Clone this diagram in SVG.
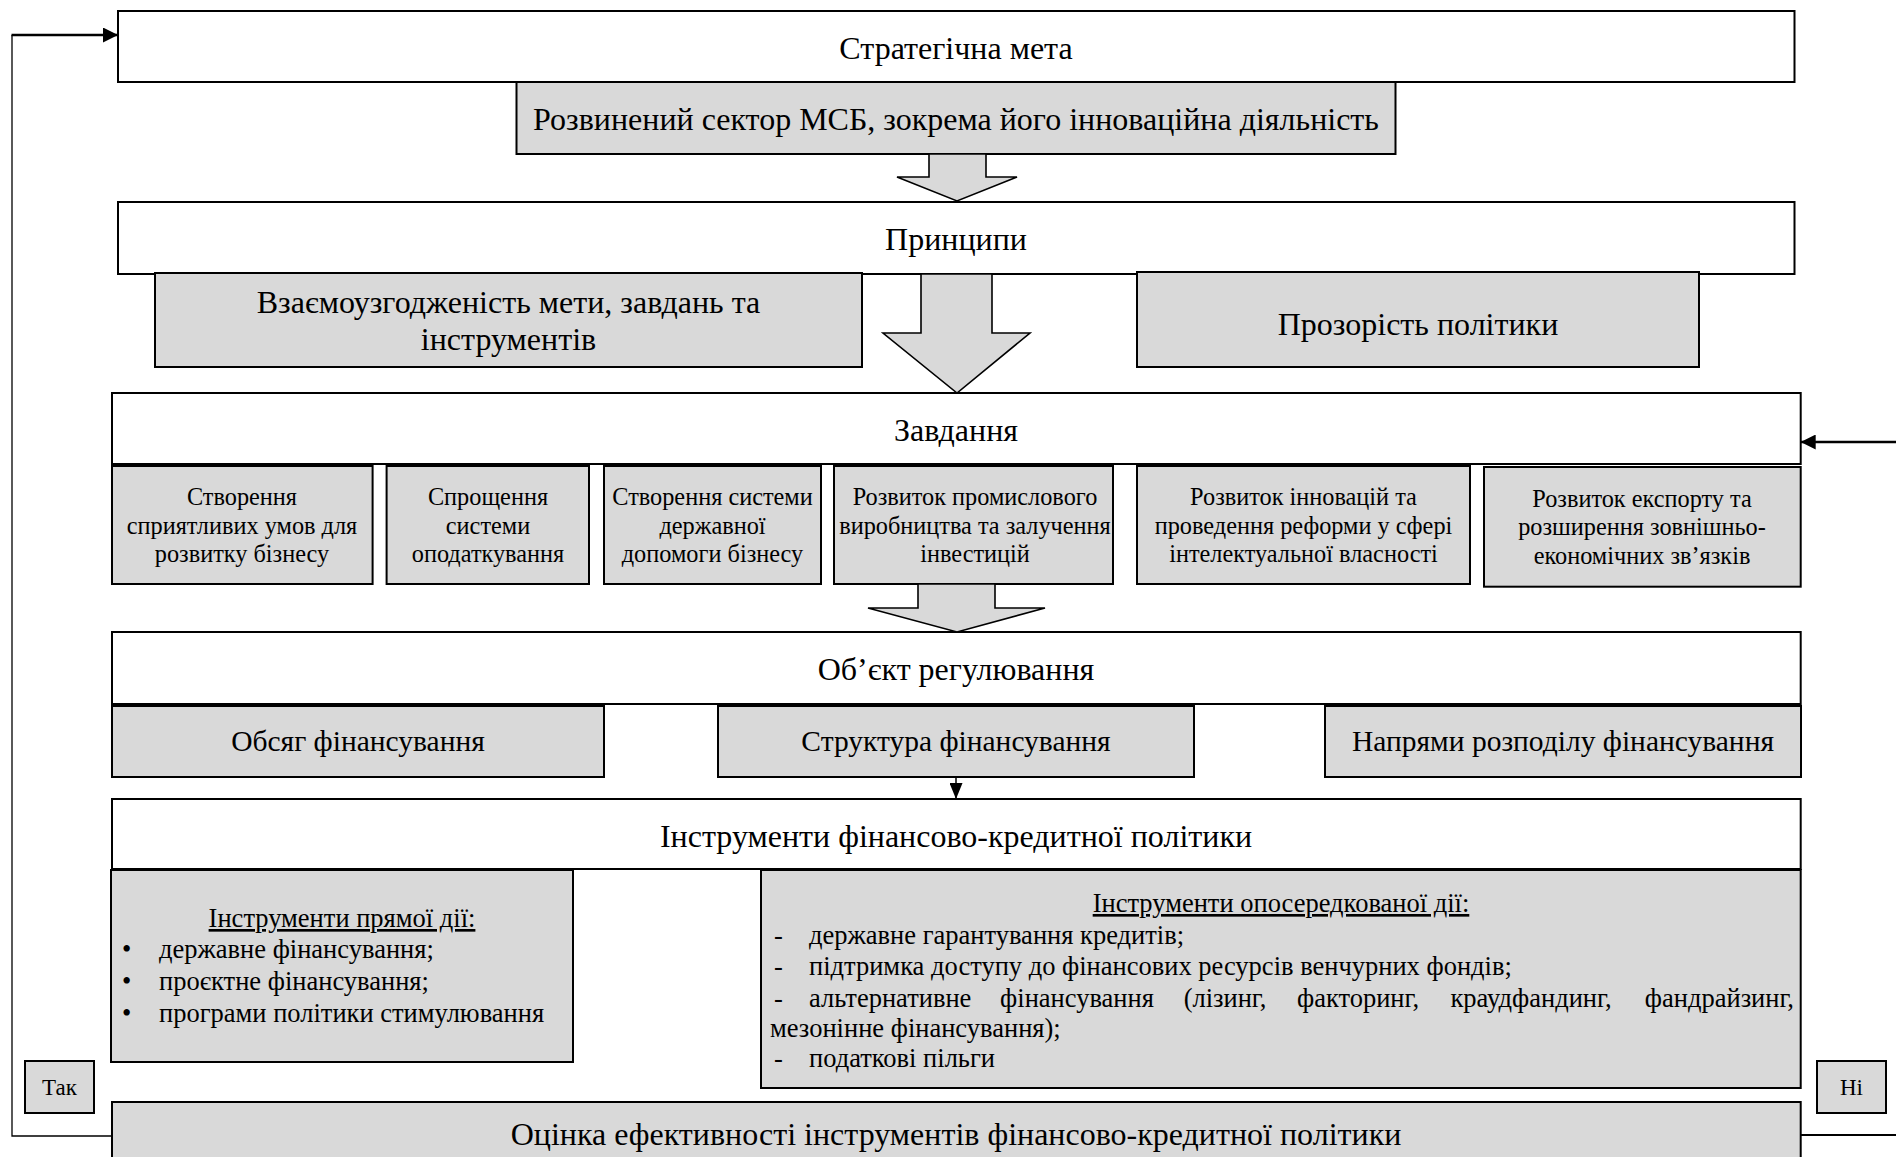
<svg xmlns="http://www.w3.org/2000/svg" width="1896" height="1157" viewBox="0 0 1896 1157">
<style>
text{font-family:"Liberation Serif","Times New Roman",serif;fill:#000}
.box{fill:#fff;stroke:#000;stroke-width:2}
.gbox{fill:#d9d9d9;stroke:#000;stroke-width:2}
.barrow{fill:#d9d9d9;stroke:#000;stroke-width:1.6;stroke-linejoin:miter}
.h{font-size:32px;text-anchor:middle}
.m{font-size:29.5px;text-anchor:middle}
.t{font-size:24.3px;text-anchor:middle}
.l{font-size:26.5px}
.lc{font-size:26.5px;text-anchor:middle;text-decoration:underline}
.s{font-size:23px;text-anchor:middle}
.ln{fill:none;stroke:#000}
</style>
<defs>
<marker id="ah" viewBox="0 0 16 13" refX="16" refY="6.5" markerWidth="16" markerHeight="13" markerUnits="userSpaceOnUse" orient="auto">
<path d="M0,0 L16,6.5 L0,13 z" fill="#000"/>
</marker>
<marker id="ah2" viewBox="0 0 10 10" refX="10" refY="5" markerWidth="7" markerHeight="6" orient="auto">
<path d="M0,0 L10,5 L0,10 z" fill="#000"/>
</marker>
</defs>

<g id="goal">
<rect class="box" x="118" y="11" width="1676.5" height="71"/>
<text class="h" x="956" y="59">Стратегічна мета</text>
</g>
<g id="goal-msb">
<rect class="gbox" x="516.5" y="82" width="879" height="72"/>
<text class="h" x="956" y="130">Розвинений сектор МСБ, зокрема його інноваційна діяльність</text>
</g>

<g id="principles">
<rect class="box" x="118" y="202" width="1676.5" height="72"/>
<text class="h" x="956" y="250">Принципи</text>
</g>
<g id="principle-1">
<rect class="gbox" x="155" y="273" width="707" height="94"/>
<text class="h" x="508.5" y="313">Взаємоузгодженість мети, завдань та</text>
<text class="h" x="508.5" y="350">інструментів</text>
</g>
<g id="principle-2">
<rect class="gbox" x="1137" y="272" width="562" height="95"/>
<text class="h" x="1418" y="335">Прозорість політики</text>
</g>

<g id="tasks">
<rect class="box" x="112" y="393" width="1688.7" height="71"/>
<text class="h" x="956" y="441">Завдання</text>
</g>
<g id="task-1">
<rect class="gbox" x="112" y="466" width="260.6" height="118"/>
<text class="t" x="242" y="505">Створення</text>
<text class="t" x="242" y="534">сприятливих умов для</text>
<text class="t" x="242" y="562">розвитку бізнесу</text>
</g>
<g id="task-2">
<rect class="gbox" x="386.6" y="466" width="202.4" height="118"/>
<text class="t" x="488" y="505">Спрощення</text>
<text class="t" x="488" y="534">системи</text>
<text class="t" x="488" y="562">оподаткування</text>
</g>
<g id="task-3">
<rect class="gbox" x="604" y="466" width="217" height="118"/>
<text class="t" x="712.5" y="505">Створення системи</text>
<text class="t" x="712.5" y="534">державної</text>
<text class="t" x="712.5" y="562">допомоги бізнесу</text>
</g>
<g id="task-4">
<rect class="gbox" x="834" y="466" width="279" height="118"/>
<text class="t" x="975" y="505">Розвиток промислового</text>
<text class="t" x="975" y="534">виробництва та залучення</text>
<text class="t" x="975" y="562">інвестицій</text>
</g>
<g id="task-5">
<rect class="gbox" x="1137" y="466" width="333" height="118"/>
<text class="t" x="1303.5" y="505">Розвиток інновацій та</text>
<text class="t" x="1303.5" y="534">проведення реформи у сфері</text>
<text class="t" x="1303.5" y="562">інтелектуальної власності</text>
</g>
<g id="task-6">
<rect class="gbox" x="1484" y="467" width="316.7" height="119.7"/>
<text class="t" x="1642" y="507">Розвиток експорту та</text>
<text class="t" x="1642" y="535">розширення зовнішньо-</text>
<text class="t" x="1642" y="564">економічних зв’язків</text>
</g>

<g id="object">
<rect class="box" x="112" y="632" width="1688.7" height="72"/>
<text class="h" x="956" y="680">Об’єкт регулювання</text>
</g>
<g id="object-1">
<rect class="gbox" x="112" y="706" width="492" height="71"/>
<text class="m" x="358" y="751">Обсяг фінансування</text>
</g>
<g id="object-2">
<rect class="gbox" x="718" y="706" width="476" height="71"/>
<text class="m" x="956" y="751">Структура фінансування</text>
</g>
<g id="object-3">
<rect class="gbox" x="1325" y="706" width="476" height="71"/>
<text class="m" x="1563" y="751">Напрями розподілу фінансування</text>
</g>

<g id="instruments">
<rect class="box" x="112" y="799" width="1688.7" height="70"/>
<text class="h" x="956" y="847">Інструменти фінансово-кредитної політики</text>
</g>
<g id="instruments-direct">
<rect class="gbox" x="111" y="870" width="462" height="192"/>
<text class="lc" x="342" y="927">Інструменти прямої дії:</text>
<text class="l" x="122" y="958">•</text>
<text class="l" x="159" y="958">державне фінансування;</text>
<text class="l" x="122" y="990">•</text>
<text class="l" x="159" y="990">проєктне фінансування;</text>
<text class="l" x="122" y="1022">•</text>
<text class="l" x="159" y="1022">програми політики стимулювання</text>
</g>
<g id="instruments-indirect">
<rect class="gbox" x="761" y="870" width="1039.7" height="218"/>
<text class="lc" x="1281" y="912">Інструменти опосередкованої дії:</text>
<text class="l" x="774" y="944">-</text>
<text class="l" x="809" y="944">державне гарантування кредитів;</text>
<text class="l" x="774" y="975">-</text>
<text class="l" x="809" y="975">підтримка доступу до фінансових ресурсів венчурних фондів;</text>
<text class="l" x="774" y="1007">-</text>
<text class="l" x="809" y="1007">альтернативне</text>
<text class="l" x="1077" y="1007" text-anchor="middle">фінансування</text>
<text class="l" x="1225" y="1007" text-anchor="middle">(лізинг,</text>
<text class="l" x="1358" y="1007" text-anchor="middle">факторинг,</text>
<text class="l" x="1531" y="1007" text-anchor="middle">краудфандинг,</text>
<text class="l" x="1794" y="1007" text-anchor="end">фандрайзинг,</text>
<text class="l" x="770" y="1037">мезонінне фінансування);</text>
<text class="l" x="774" y="1067">-</text>
<text class="l" x="809" y="1067">податкові пільги</text>
</g>

<g id="evaluation">
<rect class="gbox" x="112" y="1102" width="1688.7" height="70"/>
<text class="h" x="956" y="1145">Оцінка ефективності інструментів фінансово-кредитної політики</text>
</g>
<g id="yes">
<rect class="gbox" x="25" y="1061" width="69" height="52"/>
<text class="s" x="59.5" y="1095">Так</text>
</g>
<g id="no">
<rect class="gbox" x="1817" y="1061" width="69" height="52"/>
<text class="s" x="1851.5" y="1095">Ні</text>
</g>

<g id="connectors">
<path class="barrow" d="M929,154 L986,154 L986,177 L1017,177 L957,201 L897,177 L929,177 Z"/>
<path class="barrow" d="M921,274 L992,274 L992,333 L1030,333 L957,393 L883,333 L921,333 Z"/>
<path class="barrow" d="M918,584 L995,584 L995,608 L1045,608 L957,632 L868,608 L918,608 Z"/>
<line class="ln" x1="956" y1="777" x2="956" y2="799" stroke-width="1.5" marker-end="url(#ah)"/>
<polyline class="ln" points="112,1136 12,1136 12,35" stroke-width="1.3"/>
<line class="ln" x1="11.5" y1="35" x2="118" y2="35" stroke-width="2.5" marker-end="url(#ah2)"/>
<line class="ln" x1="1896" y1="442" x2="1800.7" y2="442" stroke-width="2.5" marker-end="url(#ah2)"/>
<line class="ln" x1="1800.7" y1="1135" x2="1896" y2="1135" stroke-width="2"/>
</g>
</svg>
